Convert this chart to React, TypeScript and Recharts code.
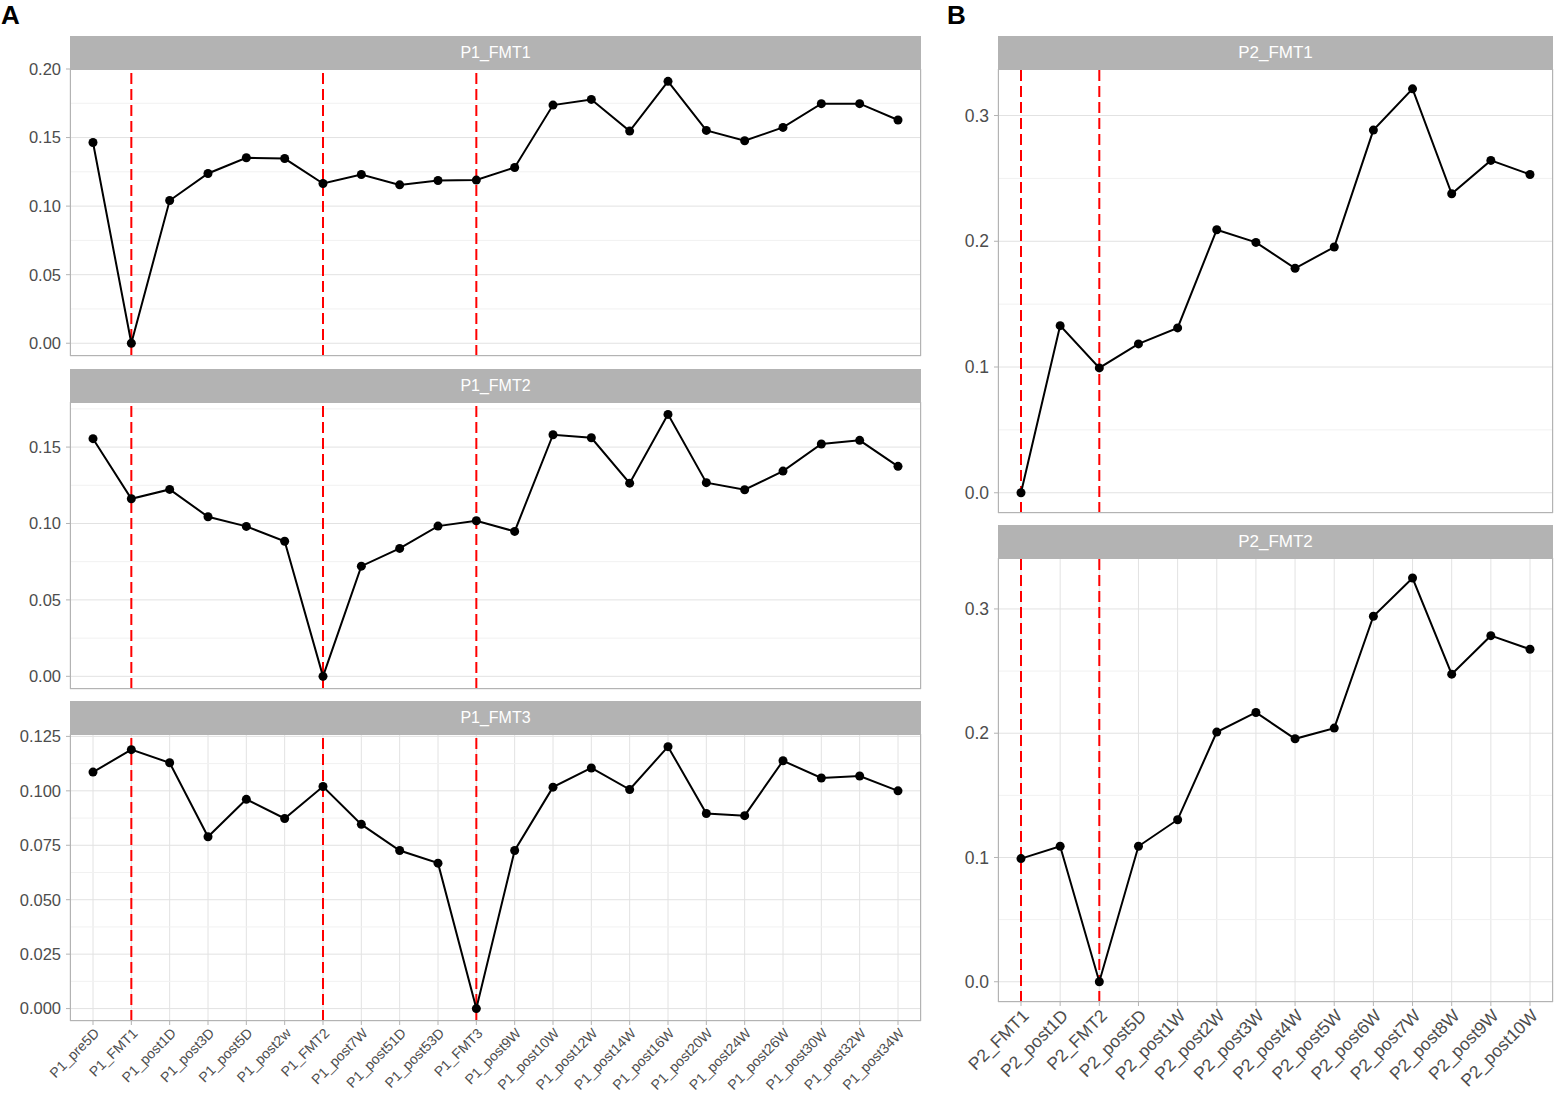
import React from 'react';
import { LineChart, Line, XAxis, YAxis, CartesianGrid, ReferenceLine } from 'recharts';

// sample labels (x axis)
const p1Samples = [
  'P1_pre5D', 'P1_FMT1', 'P1_post1D', 'P1_post3D', 'P1_post5D', 'P1_post2w',
  'P1_FMT2', 'P1_post7W', 'P1_post51D', 'P1_post53D', 'P1_FMT3', 'P1_post9W',
  'P1_post10W', 'P1_post12W', 'P1_post14W', 'P1_post16W', 'P1_post20W',
  'P1_post24W', 'P1_post26W', 'P1_post30W', 'P1_post32W', 'P1_post34W',
];
const p2Samples = [
  'P2_FMT1', 'P2_post1D', 'P2_FMT2', 'P2_post5D', 'P2_post1W', 'P2_post2W',
  'P2_post3W', 'P2_post4W', 'P2_post5W', 'P2_post6W', 'P2_post7W',
  'P2_post8W', 'P2_post9W', 'P2_post10W',
];

// FMT time points (red dashed lines)
const p1Fmt = ['P1_FMT1', 'P1_FMT2', 'P1_FMT3'];
const p2Fmt = ['P2_FMT1', 'P2_FMT2'];

// values per facet
const p1Fmt1Values = [
  0.1464, 0, 0.1041, 0.1238, 0.1353, 0.1347, 0.1165, 0.1231, 0.1155, 0.1187, 0.119,
  0.1282, 0.1737, 0.1778, 0.1547, 0.191, 0.1552, 0.1477, 0.1574, 0.1747, 0.1747, 0.1628,
];
const p1Fmt2Values = [
  0.1555, 0.1162, 0.1223, 0.1044, 0.0981, 0.0884, 0, 0.0721, 0.0837, 0.0983, 0.1018,
  0.0948, 0.1581, 0.1561, 0.1264, 0.1714, 0.1267, 0.1221, 0.1343, 0.152, 0.1544, 0.1374,
];
const p1Fmt3Values = [
  0.1086, 0.1189, 0.1129, 0.0789, 0.0961, 0.0873, 0.102, 0.0846, 0.0726, 0.0668, 0,
  0.0726, 0.1017, 0.1105, 0.1006, 0.1203, 0.0896, 0.0886, 0.1138, 0.1059, 0.1068, 0.1,
];
const p2Fmt1Values = [
  0, 0.1329, 0.0993, 0.1184, 0.1311, 0.2092, 0.1991, 0.1785, 0.1954, 0.2884, 0.3212,
  0.2378, 0.2643, 0.2531,
];
const p2Fmt2Values = [
  0.0991, 0.109, 0, 0.109, 0.1304, 0.2009, 0.2167, 0.1955, 0.2041, 0.2941, 0.3249,
  0.2475, 0.2785, 0.2676,
];

// y ticks
const ticksA1 = [0, 0.05, 0.1, 0.15, 0.2];
const minorA1 = [0.025, 0.075, 0.125, 0.175];
const ticksA2 = [0, 0.05, 0.1, 0.15];
const minorA2 = [0.025, 0.075, 0.125, 0.175];
const ticksA3 = [0, 0.025, 0.05, 0.075, 0.1, 0.125];
const minorA3 = [0.0125, 0.0375, 0.0625, 0.0875, 0.1125];
const ticksB = [0, 0.1, 0.2, 0.3];
const minorB = [0.05, 0.15, 0.25];

const FONT = 'Arial, "Liberation Sans", sans-serif';
const TEXT_GRAY = '#4d4d4d';
const BORDER = '#b3b3b3';
const PAD_TOP = 16; // room above the plot so edge tick labels are not pushed

function RotatedTick({ x, y, payload, fontSize }: any) {
  return (
    <g transform={`translate(${x},${y})`}>
      <text
        transform="rotate(-45)"
        textAnchor="end"
        dy="0.72em"
        fill={TEXT_GRAY}
        fontSize={fontSize}
        fontFamily={FONT}
      >
        {payload.value}
      </text>
    </g>
  );
}

interface FacetProps {
  title: string;
  left: number;
  top: number;
  width: number;
  height: number;
  yAxisWidth: number;
  samples: string[];
  values: number[];
  fmt: string[];
  domain: [number, number];
  ticks: number[];
  minor: number[];
  decimals: number;
  showX: boolean;
  xFont: number;
  yFont: number;
  stripFont: number;
  padding: number;
}

function Facet(p: FacetProps) {
  const data = p.samples.map((s, i) => ({ sample: s, value: p.values[i] }));
  const xHeight = p.showX ? 90 : 0;
  const bottomPad = p.showX ? 0 : 12;
  const stripH = 33;
  return (
    <>
      {/* strip */}
      <div
        style={{
          position: 'absolute',
          left: p.left,
          top: p.top - stripH,
          width: p.width,
          height: stripH,
          background: BORDER,
          color: '#ffffff',
          fontFamily: FONT,
          fontSize: p.stripFont,
          lineHeight: `${stripH}px`,
          textAlign: 'center',
          zIndex: 2,
        }}
      >
        {p.title}
      </div>
      <div style={{ position: 'absolute', left: p.left - p.yAxisWidth, top: p.top - PAD_TOP, zIndex: 1 }}>
        <LineChart
          width={p.width + p.yAxisWidth + 10}
          height={p.height + xHeight + PAD_TOP + bottomPad}
          data={data}
          margin={{ top: PAD_TOP, right: 10, bottom: bottomPad, left: 0 }}
        >
          <CartesianGrid stroke="#e2e2e2" strokeWidth={1} />
          {p.minor.map((m) => (
            <ReferenceLine key={m} y={m} stroke="#f1f1f1" strokeWidth={1} />
          ))}
          <XAxis
            dataKey="sample"
            type="category"
            interval={0}
            padding={{ left: p.padding, right: p.padding }}
            axisLine={false}
            tickLine={p.showX ? { stroke: BORDER } : false}
            tickSize={4}
            tickMargin={2}
            height={xHeight}
            tick={p.showX ? <RotatedTick fontSize={p.xFont} /> : false}
          />
          <YAxis
            type="number"
            domain={p.domain}
            allowDataOverflow
            ticks={p.ticks}
            interval={0}
            width={p.yAxisWidth}
            axisLine={false}
            tickLine={{ stroke: BORDER }}
            tickSize={4}
            tickMargin={5}
            tickFormatter={(v: number) => v.toFixed(p.decimals)}
            tick={{ fill: TEXT_GRAY, fontSize: p.yFont, fontFamily: FONT }}
          />
          {p.fmt.map((f) => (
            <ReferenceLine
              key={f}
              x={f}
              stroke="#ff0000"
              strokeWidth={2}
              strokeDasharray="11 5"
            />
          ))}
          <Line
            type="linear"
            dataKey="value"
            stroke="#000000"
            strokeWidth={2}
            dot={{ r: 4.5, fill: '#000000', stroke: 'none' }}
            activeDot={false}
            isAnimationActive={false}
          />
        </LineChart>
      </div>
      {/* panel border */}
      <div
        style={{
          position: 'absolute',
          left: p.left,
          top: p.top,
          width: p.width,
          height: p.height,
          boxSizing: 'border-box',
          border: `1px solid ${BORDER}`,
          pointerEvents: 'none',
          zIndex: 2,
        }}
      />
    </>
  );
}

export default function App() {
  const aCommon = {
    left: 70,
    width: 851,
    height: 287,
    yAxisWidth: 70,
    samples: p1Samples,
    fmt: p1Fmt,
    xFont: 14,
    yFont: 16.5,
    stripFont: 16,
    padding: 23,
  };
  const bCommon = {
    left: 998,
    width: 555,
    height: 444,
    yAxisWidth: 60,
    samples: p2Samples,
    fmt: p2Fmt,
    ticks: ticksB,
    minor: minorB,
    decimals: 1,
    xFont: 17.5,
    yFont: 17.5,
    stripFont: 17,
    padding: 23,
  };
  return (
    <div
      style={{
        position: 'absolute',
        left: 0,
        top: 0,
        width: 1554,
        height: 1100,
        background: '#ffffff',
        fontFamily: FONT,
        overflow: 'hidden',
      }}
    >
      <div style={{ position: 'absolute', left: 1, top: 0, fontSize: 26, fontWeight: 'bold', lineHeight: '30px' }}>
        A
      </div>
      <div style={{ position: 'absolute', left: 947, top: 0, fontSize: 26, fontWeight: 'bold', lineHeight: '30px' }}>
        B
      </div>
      <Facet
        {...aCommon}
        title="P1_FMT1"
        top={69}
        values={p1Fmt1Values}
        domain={[-0.0093, 0.2]}
        ticks={ticksA1}
        minor={minorA1}
        decimals={2}
        showX={false}
      />
      <Facet
        {...aCommon}
        title="P1_FMT2"
        top={402}
        values={p1Fmt2Values}
        domain={[-0.0083, 0.1795]}
        ticks={ticksA2}
        minor={minorA2}
        decimals={2}
        showX={false}
      />
      <Facet
        {...aCommon}
        title="P1_FMT3"
        top={734}
        values={p1Fmt3Values}
        domain={[-0.0057, 0.1261]}
        ticks={ticksA3}
        minor={minorA3}
        decimals={3}
        showX
      />
      <Facet
        {...bCommon}
        title="P2_FMT1"
        top={69}
        values={p2Fmt1Values}
        domain={[-0.0161, 0.337]}
        showX={false}
      />
      <Facet
        {...bCommon}
        title="P2_FMT2"
        top={558}
        values={p2Fmt2Values}
        domain={[-0.0163, 0.341]}
        showX
      />
    </div>
  );
}
